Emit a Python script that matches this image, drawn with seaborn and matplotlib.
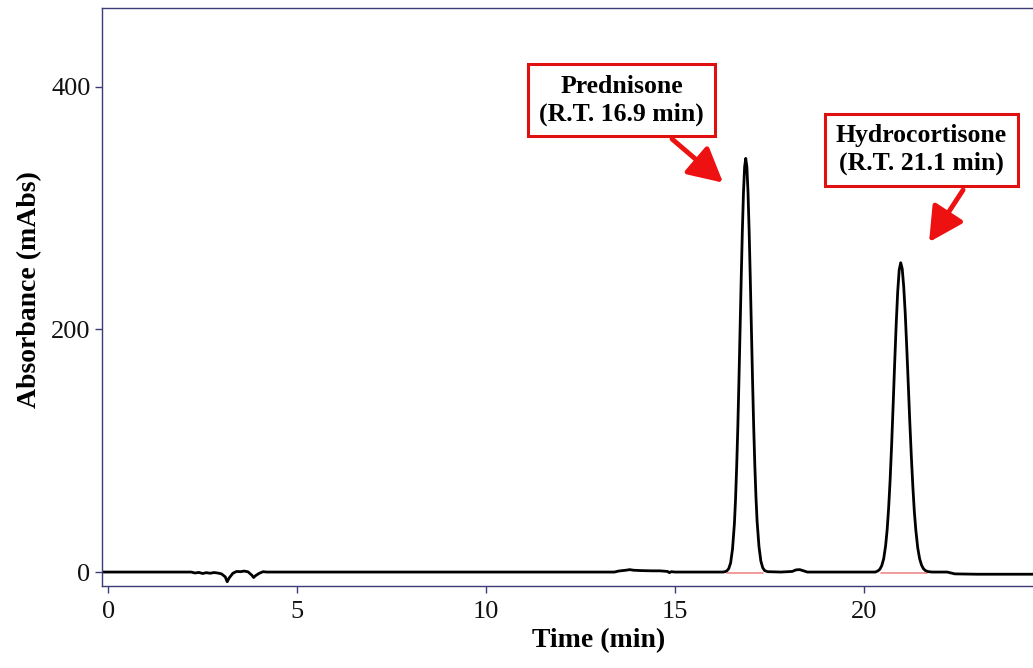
import matplotlib
matplotlib.use("Agg")
import matplotlib.pyplot as plt
import seaborn as sns

# chromatogram trace (time in min, absorbance in mAbs)
time_min = [
    -0.2, 2.2, 2.3, 2.4, 2.5, 2.6, 2.7, 2.8, 2.9, 3.0, 3.1, 3.15, 3.2, 3.3, 3.4,
    3.5, 3.6, 3.7, 3.8, 3.85, 3.9, 4.0, 4.1, 4.2, 4.3, 6.0, 8.0, 10.0, 12.0, 13.4,
    13.5, 13.7, 13.8, 13.9, 14.1, 14.4, 14.6, 14.8, 14.85, 14.9, 15.0, 16.27,
    # prednisone peak
    16.32, 16.37, 16.42, 16.47, 16.52, 16.57, 16.60, 16.63, 16.66, 16.69, 16.72,
    16.75, 16.78, 16.81, 16.84, 16.87, 16.90, 16.93, 16.96, 16.99, 17.02, 17.05,
    17.08, 17.11, 17.14, 17.17, 17.22, 17.27, 17.32, 17.37, 17.45,
    17.8, 18.1, 18.2, 18.3, 18.4, 18.5, 20.3,
    # hydrocortisone peak
    20.37, 20.42, 20.47, 20.52, 20.57, 20.61, 20.65, 20.69, 20.73, 20.77, 20.81,
    20.85, 20.89, 20.93, 20.97, 21.01, 21.05, 21.09, 21.13, 21.17, 21.21, 21.25,
    21.29, 21.33, 21.37, 21.42, 21.47, 21.52, 21.57, 21.62, 21.69, 21.8,
    22.2, 22.4, 23.0, 24.5,
]
absorbance = [
    0, 0, -0.8, -0.3, -1.2, -0.5, -1.0, -0.4, -0.8, -1.5, -4, -8, -5, -1, 0.5,
    0.3, 0.8, 0.2, -2.5, -4.5, -3, -1, 0.3, 0, 0, 0, 0, 0, 0, 0,
    0.8, 1.5, 2, 1.5, 1.2, 1.0, 1.0, 0.5, -0.5, 0.3, 0, 0,
    0.3, 1, 2.8, 7.6, 19, 40, 60, 87, 119, 158, 200,
    242, 281, 313, 334, 341, 334, 313, 281, 242, 200, 158,
    120, 88, 62, 42, 21, 9, 3.5, 1.2, 0.3,
    0, 0.5, 1.8, 2, 1.0, 0, 0,
    1, 2.4, 5.4, 11, 21.6, 34.5, 52.5, 76, 105, 138, 172,
    204, 231, 249, 255, 250, 235, 213, 185, 155, 124, 96,
    71, 50, 34.5, 20, 11, 5.8, 2.8, 1.3, 0.4, 0,
    0, -1.5, -1.8, -1.8,
]

# integration baselines (pink) under the two peaks
pred_base_t = [16.37, 17.33]
hydro_base_t = [20.45, 21.67]
base_level = [-1, -1]

peak_labels = ["Prednisone\n(R.T. 16.9 min)", "Hydrocortisone\n(R.T. 21.1 min)"]
label_pos = [(13.58, 389), (21.52, 348)]
arrow_from = [(14.92, 357), (22.62, 315)]
arrow_to = [(16.27, 321), (21.72, 272)]

x_ticks = [0, 5, 10, 15, 20]
y_ticks = [0, 200, 400]

sns.set_style("white")
plt.rcParams["font.family"] = ["Liberation Serif", "DejaVu Serif"]
plt.rcParams["text.color"] = "black"
plt.rcParams["axes.labelcolor"] = "black"

fig = plt.figure(figsize=(10.33, 6.68), dpi=100)
ax = fig.add_axes([101.7 / 1033, 1 - 586 / 668, 931.3 / 1033, 578 / 668])

sns.lineplot(x=pred_base_t, y=base_level, ax=ax, color="#f08a8a", lw=1.2)
sns.lineplot(x=hydro_base_t, y=base_level, ax=ax, color="#f08a8a", lw=1.2)
sns.lineplot(x=time_min, y=absorbance, ax=ax, color="black", lw=2.0)

ax.set_xlim(-0.17, 24.47)
ax.set_ylim(-11.5, 465)
ax.set_xticks(x_ticks)
ax.set_yticks(y_ticks)

spine_col = "#3c3c78"
for side in ["left", "bottom", "top"]:
    ax.spines[side].set_color(spine_col)
    ax.spines[side].set_linewidth(1.0)
ax.spines["right"].set_visible(False)
ax.tick_params(axis="both", direction="out", length=5, width=1, color=spine_col,
               labelsize=19, labelcolor="#111111")
ax.tick_params(axis="x", pad=6, bottom=True)
ax.tick_params(axis="y", pad=3, left=True)

ax.set_xlabel("Time (min)", fontsize=20, fontweight="bold")
ax.set_ylabel("Absorbance (mAbs)", fontsize=20, fontweight="bold")
ax.xaxis.set_label_coords(0.534, -0.073)
ax.yaxis.set_label_coords(-0.064, 0.513)

for lab, pos, a0, a1 in zip(peak_labels, label_pos, arrow_from, arrow_to):
    ax.text(pos[0], pos[1], lab, ha="center", va="center", fontsize=18.5,
            fontweight="bold", linespacing=1.25, color="black",
            bbox=dict(boxstyle="square,pad=0.42", fc="white", ec="#e01010", lw=2.2))
    ax.annotate("", xy=a1, xytext=a0,
                arrowprops=dict(arrowstyle="-|>,head_length=0.95,head_width=0.5",
                                color="#ee1111", lw=3.5, mutation_scale=22,
                                shrinkA=0, shrinkB=0))

fig.savefig("out.png", dpi=100)
